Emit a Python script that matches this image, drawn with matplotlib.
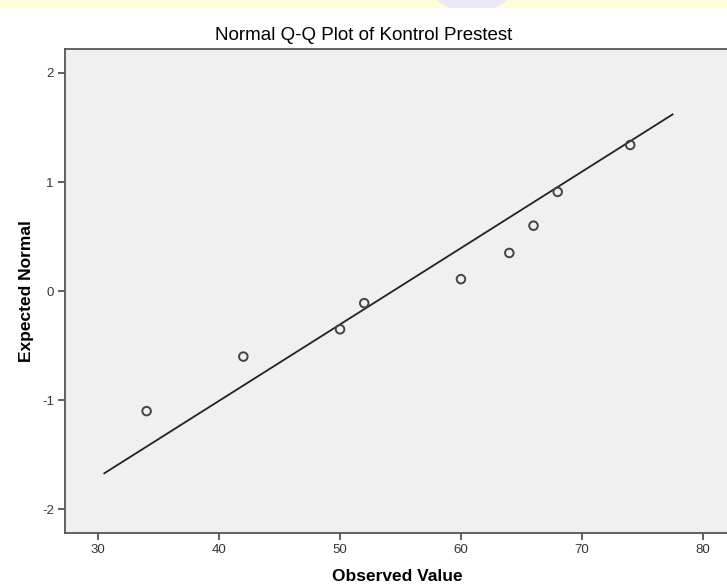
import matplotlib
matplotlib.use("Agg")
import matplotlib.pyplot as plt
from matplotlib.patches import Rectangle, Ellipse

plt.rcParams["font.family"] = ["Liberation Sans", "DejaVu Sans"]
plt.rcParams["axes.unicode_minus"] = False

observed = [34, 42, 50, 52, 60, 64, 66, 68, 74]
expected = [-1.10, -0.60, -0.35, -0.11, 0.11, 0.35, 0.60, 0.91, 1.34]

# Reference line endpoints
line_x = [30.5, 77.5]
line_y = [-1.67, 1.62]

x_ticks = [30, 40, 50, 60, 70, 80]
y_ticks = [-2, -1, 0, 1, 2]

W, H = 727, 588
fig = plt.figure(figsize=(W / 100, H / 100), dpi=100)

# faint banner strip at the very top of the screenshot
band = Rectangle((0, 1 - 8 / H), 1, 8 / H, transform=fig.transFigure,
                 facecolor="#fefdd8", edgecolor="none", zorder=0)
fig.patches.append(band)
blob = Ellipse((472 / W, 1 + 20 / H), 90 / W, 64 / H, transform=fig.transFigure,
               facecolor="#e8e8f8", edgecolor="none", zorder=1)
fig.patches.append(blob)
blob.set_clip_path(band)

left, right = 65, 729
top, bottom = 49, 533.3
ax = fig.add_axes([left / W, (H - bottom) / H, (right - left) / W, (bottom - top) / H])
ax.set_facecolor("#f0f0f0")

ax.plot(line_x, line_y, color="#222222", linewidth=1.3, zorder=2)
ax.scatter(observed, expected, s=38, facecolors="none", edgecolors="#444444",
           linewidths=1.4, zorder=3)

ax.set_xlim(27.25, 82.17)
ax.set_ylim(-2.22, 2.22)
ax.set_xticks(x_ticks)
ax.set_yticks(y_ticks)
ax.tick_params(axis="both", direction="out", length=5, width=1.2, color="#444444",
               labelsize=9.5, labelcolor="#333333", pad=3)

for s in ax.spines.values():
    s.set_color("#555555")
    s.set_linewidth(1.3)

ax.set_xlabel("Observed Value", fontsize=12.5, fontweight="bold", labelpad=9)
ax.set_ylabel("Expected Normal", fontsize=12.5, fontweight="bold", labelpad=6)

fig.text(0.5, 1 - 35 / H, "Normal Q-Q Plot of Kontrol Prestest",
         ha="center", va="center", fontsize=13.5)

fig.savefig("out.png", dpi=100)
